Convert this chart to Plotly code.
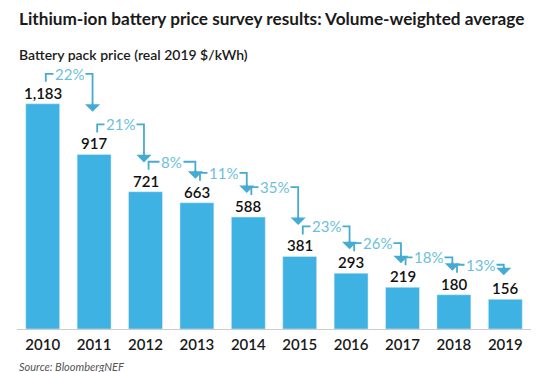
import plotly.graph_objects as go

years = ["2010", "2011", "2012", "2013", "2014", "2015", "2016", "2017", "2018", "2019"]
prices = [1183, 917, 721, 663, 588, 381, 293, 219, 180, 156]
drops = ["22%", "21%", "8%", "11%", "35%", "23%", "26%", "18%", "13%"]

W, H = 540, 372
M_L, M_R, M_T, M_B = 17, 9, 60, 43
YMAX = 1413
ppu = (H - M_T - M_B) / YMAX  # pixels per data unit

BAR = "#3db2e3"
ARROW = "#46abd2"
PCT = "#6dbfd9"
FONT = "Lato"

x = list(range(len(years)))
fig = go.Figure()
fig.add_trace(go.Bar(x=x, y=prices, marker_color=BAR, width=0.66,
                     hoverinfo="skip"))

annotations = []
for i, v in enumerate(prices):
    annotations.append(dict(x=i, y=v, xref="x", yref="y", text=f"{v:,}",
                            showarrow=False, yanchor="middle", yshift=11,
                            font=dict(family=FONT, size=15, color="#111111", weight=600)))

lx, ly = [], []
for i, d in enumerate(drops):
    xl = i + 0.06
    xr = i + 0.97
    yh = prices[i] + 30 / ppu
    ytick = yh - 8 / ppu
    ytip = max(yh - 38 / ppu, prices[i + 1] + 24 / ppu)
    lx += [xl, xl, xr, xr, None]
    ly += [ytick, yh, yh, ytip + 6 / ppu, None]
    annotations.append(dict(x=xr, y=ytip, ax=xr, ay=ytip + 10 / ppu, xref="x", yref="y",
                            axref="x", ayref="y", showarrow=True, arrowhead=1,
                            arrowsize=1.4, arrowwidth=1.8, arrowcolor=ARROW, text=""))
    annotations.append(dict(x=(xl + xr) / 2, y=yh, xref="x", yref="y", text=d,
                            showarrow=False, bgcolor="white", borderpad=1,
                            font=dict(family=FONT, size=15, color=PCT)))

fig.add_trace(go.Scatter(x=lx, y=ly, mode="lines", line=dict(color=ARROW, width=1.8),
                         hoverinfo="skip"))

annotations.append(dict(x=0, y=1, xref="paper", yref="paper", xanchor="left",
                        yanchor="middle", yshift=M_T - 18, showarrow=False,
                        text="Lithium-ion battery price survey results: Volume-weighted average",
                        font=dict(family=FONT, size=17.2, color="#1a1a1a", weight=700)))
annotations.append(dict(x=0, y=1, xref="paper", yref="paper", xanchor="left",
                        yanchor="middle", yshift=M_T - 54, showarrow=False,
                        text="Battery pack price (real 2019 $/kWh)",
                        font=dict(family=FONT, size=14, color="#1a1a1a", weight=600)))
annotations.append(dict(x=0, y=0, xref="paper", yref="paper", xanchor="left",
                        yanchor="middle", yshift=-37, showarrow=False,
                        text="<i>Source: BloombergNEF</i>",
                        font=dict(family=FONT, size=11, color="#555555")))

fig.update_layout(
    width=W, height=H, margin=dict(l=M_L, r=M_R, t=M_T, b=M_B),
    paper_bgcolor="white", plot_bgcolor="white", showlegend=False,
    annotations=annotations,
    xaxis=dict(range=[-0.5, 9.5], tickvals=x, ticktext=years, showgrid=False,
               zeroline=False, showline=True, linecolor="#cccccc", linewidth=1,
               ticks="", ticklabelstandoff=2,
               tickfont=dict(family=FONT, size=15, color="#1a1a1a", weight=600)),
    yaxis=dict(range=[0, YMAX], visible=False, showgrid=False, zeroline=False),
)

fig.write_html("out.html", config={"staticPlot": True, "displayModeBar": False},
               post_script="document.body.style.margin='0';document.body.style.overflow='hidden';")
